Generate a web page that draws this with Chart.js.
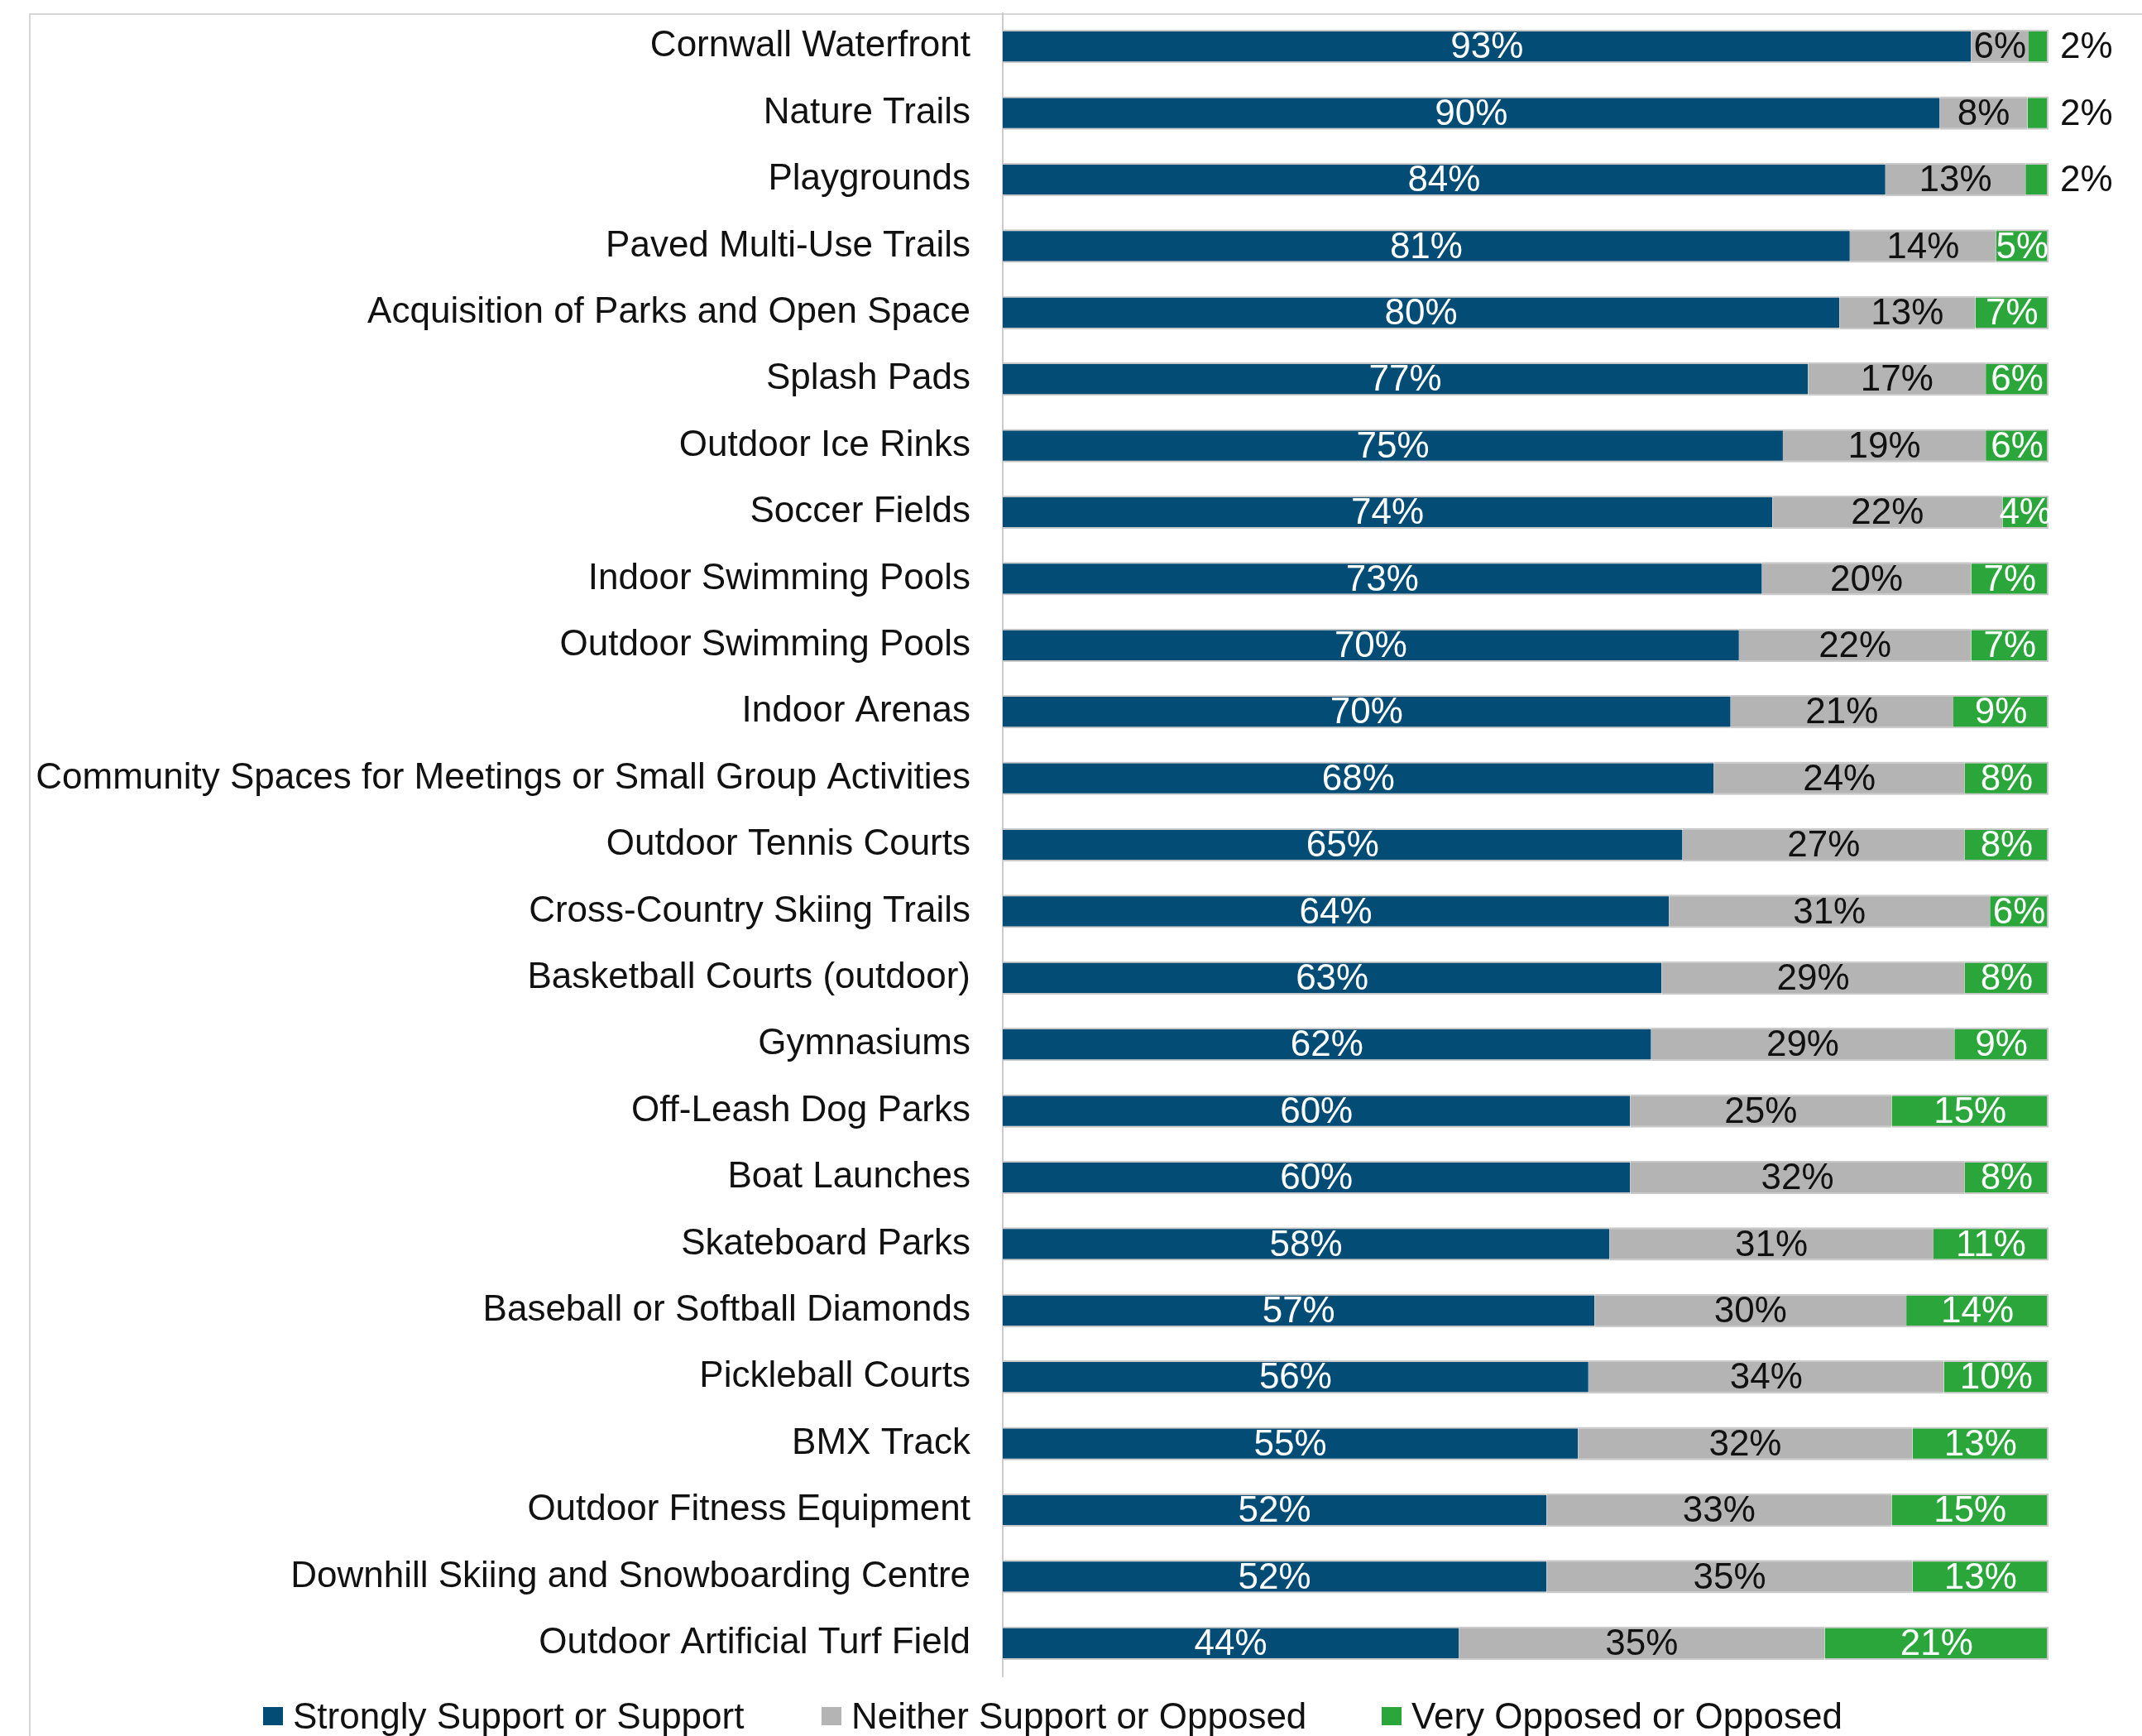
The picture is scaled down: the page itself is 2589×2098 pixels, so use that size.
<!DOCTYPE html>
<html>
<head>
<meta charset="utf-8">
<script src="https://cdn.jsdelivr.net/npm/chart.js@4.4.1/dist/chart.umd.min.js"></script>
<style>
  html, body { margin: 0; padding: 0; background: #fff; overflow: hidden; }
  #wrap { position: relative; width: 2589px; height: 2098px; }
  #frame { position: absolute; left: 35px; top: 16px; right: -10px; bottom: -10px;
           border-left: 2px solid #d6d6d6; border-top: 2px solid #d6d6d6; }
  #chart { position: absolute; left: 0; top: 0; }
  #legend { position: absolute; top: 2050px; left: 0; height: 48px; width: 2589px;
            font: 44px "Liberation Sans", Arial, sans-serif; color: #111; line-height: 48px; }
  .item { position: absolute; top: 0; height: 48px; display: flex; align-items: center; white-space: nowrap; }
  .box { width: 24px; height: 22px; margin-right: 12px; }
</style>
</head>
<body>
<div id="wrap">
  <div id="frame"></div>
  <canvas id="chart" width="2589" height="2098"></canvas>
  <div id="legend"></div>
</div>
<script>
const categories = [
    'Cornwall Waterfront',
    'Nature Trails',
    'Playgrounds',
    'Paved Multi-Use Trails',
    'Acquisition of Parks and Open Space',
    'Splash Pads',
    'Outdoor Ice Rinks',
    'Soccer Fields',
    'Indoor Swimming Pools',
    'Outdoor Swimming Pools',
    'Indoor Arenas',
    'Community Spaces for Meetings or Small Group Activities',
    'Outdoor Tennis Courts',
    'Cross-Country Skiing Trails',
    'Basketball Courts (outdoor)',
    'Gymnasiums',
    'Off-Leash Dog Parks',
    'Boat Launches',
    'Skateboard Parks',
    'Baseball or Softball Diamonds',
    'Pickleball Courts',
    'BMX Track',
    'Outdoor Fitness Equipment',
    'Downhill Skiing and Snowboarding Centre',
    'Outdoor Artificial Turf Field'
];

const seriesNames = ['Strongly Support or Support', 'Neither Support or Opposed', 'Very Opposed or Opposed'];
const seriesColors = ['#024c75', '#b4b4b4', '#2aa63b'];
const labelColors = ['#ffffff', '#111111', '#ffffff'];

const support = [92.6, 89.6, 84.4, 81, 80, 77, 74.6, 73.6, 72.6, 70.4, 69.6, 68, 65, 63.7, 63, 62, 60, 60, 58, 56.6, 56, 55, 52, 52, 43.6];
const neutral = [5.5, 8.4, 13.4, 14, 13, 17, 19.4, 22.0, 20.0, 22.2, 21.3, 24, 27, 30.7, 29, 29, 25, 32, 31, 29.8, 34, 32, 33, 35, 35];
const opposed = [1.9, 2, 2.2, 5, 7, 6, 6.0, 4.4, 7.4, 7.4, 9.1, 8, 8, 5.6, 8, 9, 15, 8, 11, 13.6, 10, 13, 15, 13, 21.4];

const FONT = '"Liberation Sans", Arial, sans-serif';

// percentage labels on each segment; tiny segments get the label outside the bar
const segmentLabels = {
    id: 'segmentLabels',
    afterDatasetsDraw(chart) {
        const ctx = chart.ctx;
        const area = chart.chartArea;
        ctx.save();
        ctx.font = '44px ' + FONT;
        ctx.textBaseline = 'middle';
        chart.data.datasets.forEach((ds, d) => {
            chart.getDatasetMeta(d).data.forEach((el, i) => {
                const left = Math.min(el.base, el.x);
                const right = Math.max(el.base, el.x);
                const text = Math.round(ds.data[i]) + '%';
                if (right - left < 40) {
                    ctx.fillStyle = '#111111';
                    ctx.textAlign = 'left';
                    ctx.fillText(text, area.right + 14, el.y + 2);
                } else {
                    ctx.save();
                    ctx.beginPath();
                    ctx.rect(area.left, el.y - 30, area.right - area.left, 60);
                    ctx.clip();
                    ctx.fillStyle = labelColors[d];
                    ctx.textAlign = 'center';
                    ctx.fillText(text, (left + right) / 2, el.y + 2);
                    ctx.restore();
                }
            });
        });
        ctx.restore();
    }
};

const values = [support, neutral, opposed];

new Chart(document.getElementById('chart'), {
    type: 'bar',
    data: {
        labels: categories,
        datasets: values.map((data, d) => ({
            label: seriesNames[d],
            data,
            backgroundColor: seriesColors[d],
            borderColor: '#c9c9c9',
            borderWidth: {top: 2, bottom: 2, left: 0, right: d === 2 ? 2 : 0},
            borderSkipped: false,
            barPercentage: 0.5,
            categoryPercentage: 1
        }))
    },
    options: {
        indexAxis: 'y',
        responsive: false,
        animation: false,
        devicePixelRatio: 1,
        layout: { padding: { top: 16, right: 113, bottom: 72, left: 0 } },
        scales: {
            x: { stacked: true, display: false, min: 0, max: 100 },
            y: {
                stacked: true,
                grid: { display: false },
                border: { display: true, color: '#cccccc', width: 2 },
                ticks: { font: { size: 44, family: FONT }, color: '#111111', padding: 31, autoSkip: false },
                afterFit(scale) {
                    scale.width = 1212;
                    scale.paddingTop = 0;
                    scale.paddingBottom = 0;
                }
            }
        },
        plugins: {
            legend: { display: false },
            tooltip: { enabled: false }
        }
    },
    plugins: [segmentLabels]
});

// legend under the plot
const legend = document.getElementById('legend');
const legendLeft = [318, 993, 1670];
seriesNames.forEach((name, d) => {
    const item = document.createElement('div');
    item.className = 'item';
    item.style.left = legendLeft[d] + 'px';
    item.innerHTML = `<span class="box" style="background:${seriesColors[d]}"></span><span>${name}</span>`;
    legend.appendChild(item);
});
</script>
</body>
</html>
